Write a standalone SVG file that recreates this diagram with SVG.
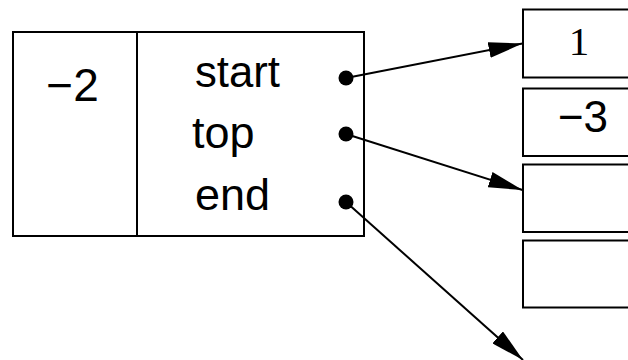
<svg xmlns="http://www.w3.org/2000/svg" width="628" height="360" viewBox="0 0 628 360">
<style>
.box{fill:#fff;stroke:#000;stroke-width:2}
.sans{font-family:"Liberation Sans",Arial,sans-serif;fill:#000}
.serif{font-family:"Liberation Serif","Times New Roman",serif;fill:#000}
.conn{stroke:#000;stroke-width:2;fill:none;marker-end:url(#ah)}
.dot{fill:#000}
</style>
<defs>
<marker id="ah" viewBox="0 0 34 16" refX="34" refY="8" markerWidth="34" markerHeight="16" markerUnits="userSpaceOnUse" orient="auto">
<path d="M0,0 L34,8 L0,16 Z" fill="#000"/>
</marker>
</defs>
<g id="record">
<rect class="box" x="13" y="32" width="351" height="204"/>
<line x1="137" y1="32" x2="137" y2="236" stroke="#000" stroke-width="2"/>
<text class="sans" x="72.5" y="101" font-size="46" text-anchor="middle">−2</text>
<text class="sans" x="195" y="87" font-size="45" textLength="85" lengthAdjust="spacingAndGlyphs">start</text>
<text class="sans" x="192" y="148" font-size="45">top</text>
<text class="sans" x="195" y="210" font-size="45">end</text>
<circle class="dot" cx="346" cy="78" r="7.5"/>
<circle class="dot" cx="346" cy="134" r="7.5"/>
<circle class="dot" cx="346" cy="202" r="7.5"/>
</g>
<g id="cell0">
<rect class="box" x="523" y="9.5" width="120" height="68"/>
<text class="serif" x="579" y="55" font-size="41" text-anchor="middle">1</text>
</g>
<g id="cell1">
<rect class="box" x="523" y="88.5" width="120" height="67.5"/>
<text class="sans" x="583" y="132" font-size="44" text-anchor="middle">−3</text>
</g>
<g id="cell2">
<rect class="box" x="523" y="164.5" width="120" height="67.5"/>
</g>
<g id="cell3">
<rect class="box" x="523" y="240.5" width="120" height="67"/>
</g>
<g id="connectors">
<line class="conn" x1="346" y1="78" x2="522.5" y2="43.5"/>
<line class="conn" x1="346" y1="134" x2="522.5" y2="190"/>
<line class="conn" x1="346" y1="202" x2="523" y2="360"/>
</g>
</svg>
